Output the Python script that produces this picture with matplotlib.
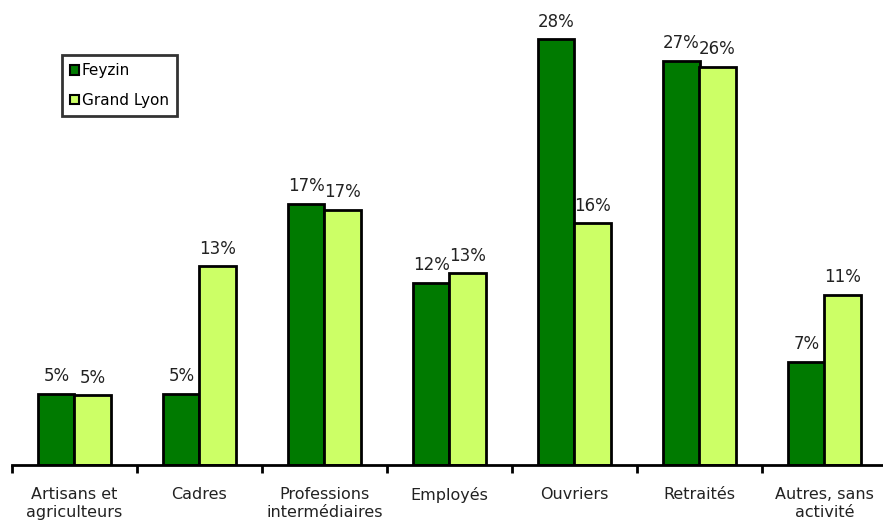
import numpy as np
import matplotlib.pyplot as plt
from matplotlib.patches import Patch

categories = ['Artisans et\nagriculteurs', 'Cadres', 'Professions\nintermédiaires',
              'Employés', 'Ouvriers', 'Retraités', 'Autres, sans\nactivité']
feyzin     = [4.7, 4.7, 17.2, 12.0, 28.0, 26.6, 6.8]
grand_lyon = [4.6, 13.1, 16.8, 12.6, 15.9, 26.2, 11.2]
series_names = ['Feyzin', 'Grand Lyon']

DARK  = '#007A00'
LIGHT = '#CCFF66'

fig = plt.figure(figsize=(8.83, 5.22), dpi=100)
# x axis runs from px 12 to 887, baseline at px 465
ax = fig.add_axes([12 / 883, 1 - 465 / 522, 875 / 883, 456 / 522])

x = np.arange(len(categories))
w = 0.29
b1 = ax.bar(x - w / 2, feyzin, w, color=DARK, edgecolor='black', linewidth=2)
b2 = ax.bar(x + w / 2, grand_lyon, w, color=LIGHT, edgecolor='black', linewidth=2)

for bars, vals in [(b1, feyzin), (b2, grand_lyon)]:
    for bar, v in zip(bars, vals):
        ax.text(bar.get_x() + bar.get_width() / 2, v + 0.55, f'{round(v):.0f}%',
                ha='center', va='bottom', fontsize=12, color='#222222')

ax.set_xlim(-0.5, len(categories) - 0.5)
ax.set_ylim(0, 30)
ax.set_yticks([])
for s in ['top', 'right', 'left']:
    ax.spines[s].set_visible(False)
ax.spines['bottom'].set_linewidth(2)

ax.set_xticks(np.arange(len(categories) + 1) - 0.5)
ax.set_xticklabels([])
ax.tick_params(axis='x', length=6, width=2, color='black')
ax.set_xticks(x, minor=True)
ax.set_xticklabels(categories, minor=True, fontsize=11.5, color='#222222', linespacing=1.25)
ax.tick_params(axis='x', which='minor', length=0, pad=15.5)

handles = [Patch(facecolor=DARK, edgecolor='black', linewidth=1.5),
           Patch(facecolor=LIGHT, edgecolor='black', linewidth=1.5)]
leg = ax.legend(handles, series_names, loc='upper left', bbox_to_anchor=(0.057, 0.899),
                borderaxespad=0, fontsize=11, frameon=True, fancybox=False,
                handlelength=0.55, handleheight=0.55, handletextpad=0.2,
                borderpad=0.55, labelspacing=0.95)
leg.get_frame().set_edgecolor('black')
leg.get_frame().set_linewidth(2)

fig.savefig('out.png', dpi=100)
